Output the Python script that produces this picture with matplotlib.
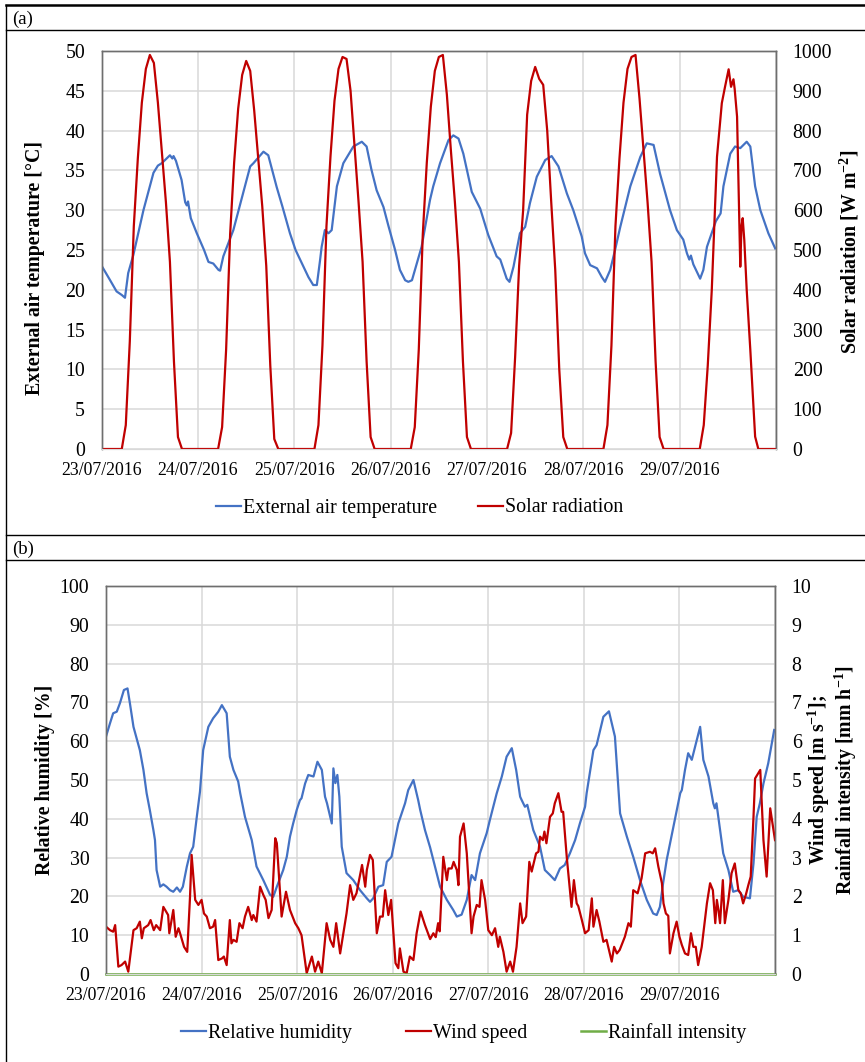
import matplotlib.pyplot as plt
from matplotlib.lines import Line2D

plt.rcParams['font.family'] = ['Liberation Serif', 'DejaVu Serif']
plt.rcParams['font.size'] = 14.3
plt.rcParams['mathtext.fontset'] = 'custom'
plt.rcParams['mathtext.rm'] = 'Liberation Serif'
plt.rcParams['mathtext.bf'] = 'Liberation Serif:bold'

# x axis: hours since 23/07/2016 00:00
day_labels = ['23/07/2016', '24/07/2016', '25/07/2016', '26/07/2016',
              '27/07/2016', '28/07/2016', '29/07/2016']

# external air temperature [°C]
temp_h = [0, 2.1, 3.7, 5.0, 5.8, 6.6, 7.9, 10.4, 12.9, 14.0, 14.95, 17.0, 17.6, 17.9, 18.5, 19.9,
          20.8, 21.2, 21.5, 22.2, 23.7, 25.5, 26.6, 27.8, 29.1, 29.5, 30.3, 31.2, 32.8, 36.1, 37.0,
          37.8, 39.0, 40.3, 41.5, 43.6, 45.0, 46.9, 48.3, 49.9, 51.5, 52.7, 53.6, 54.4, 54.8, 55.6,
          56.5, 57.3, 58.6, 60.2, 62.7, 64.8, 66.0, 67.2, 68.5, 70.2, 71.4, 73.1, 74.3, 75.6, 76.4,
          77.3, 78.5, 79.7, 81.8, 82.6, 84.3, 86.4, 87.6, 88.9, 90.1, 92.2, 94.3, 96.3, 98.4, 99.3,
          100.9, 101.6, 102.6, 103.4, 104.2, 105.5, 106.7, 108.4, 110.5, 112.1, 113.8, 115.9, 117.5,
          119.6, 120.4, 121.7, 123.4, 124.6, 125.4, 126.7, 127.9, 129.2, 131.7, 134.2, 135.8, 137.5,
          139.1, 141.6, 143.3, 144.9, 145.8, 146.4, 146.8, 147.4, 149.1, 149.9, 150.8, 153.0, 154.2,
          154.9, 156.6, 157.8, 159.1, 160.7, 161.6, 162.8, 164.1, 166.1, 167.8]
temp_c = [23.0, 21.2, 19.8, 19.35, 19.0, 22.1, 24.4, 30.0, 34.7, 35.6, 35.9, 36.9, 36.5, 36.8, 36.2, 33.8,
          31.0, 30.6, 31.1, 29.0, 27.1, 25.0, 23.5, 23.3, 22.5, 22.4, 24.2, 25.4, 27.5, 33.8, 35.5,
          35.9, 36.6, 37.35, 36.9, 32.9, 30.5, 27.1, 25.0, 23.3, 21.6, 20.6, 20.6, 23.7, 25.4, 27.5,
          27.1, 27.5, 33.0, 35.9, 38.0, 38.6, 38.0, 35.1, 32.5, 30.4, 28.1, 25.0, 22.5, 21.2, 21.0,
          21.2, 23.3, 25.4, 31.3, 33.0, 35.9, 38.8, 39.4, 39.0, 37.1, 32.3, 30.2, 26.9, 24.2, 23.8,
          21.4, 21.0, 22.9, 25.0, 27.1, 27.9, 30.9, 34.2, 36.3, 36.8, 35.5, 32.1, 30.0,
          26.7, 24.6, 23.1, 22.7, 21.6, 21.0, 22.5, 25.0, 27.9, 33.0, 36.7, 38.4, 38.2,
          34.6, 30.0, 27.5, 26.3, 24.6, 23.8, 24.3, 23.2, 21.4, 22.5, 25.4, 28.6, 29.6,
          33.0, 37.1, 38.0, 37.8, 38.6, 38.0, 33.0, 30.0, 27.1, 25.2]

# solar radiation [W m-2]
solar_h = [0, 5, 6, 7, 8, 9, 10, 11, 12, 13, 14, 15, 16, 17, 18, 19, 20,
           29, 30, 31, 32, 33, 34, 35, 36, 37, 38, 39, 40, 41, 42, 43, 44,
           53, 54, 55, 56, 57, 58, 59, 60, 61, 62, 63, 64, 65, 66, 67, 68,
           77, 78, 79, 80, 81, 82, 83, 84, 85, 86, 87, 88, 89, 90, 91, 92,
           101, 102, 103, 104, 105, 106, 107, 108, 109, 110, 111, 112, 113, 114, 115, 116,
           125, 126, 127, 128, 129, 130, 131, 132, 133, 134, 135, 136, 137, 138, 139, 140,
           149, 150, 151, 152, 153.3, 154.5, 155.3, 156.2, 156.8, 157.4, 157.7, 158.3, 159.1,
           159.4, 159.7, 160.1, 160.7, 161.6, 162.8, 163.6, 168]
solar_w = [0, 0, 60, 270, 560, 730, 870, 955, 990, 970, 870, 745, 620, 470, 220, 30, 0,
           0, 55, 250, 540, 720, 855, 940, 975, 950, 850, 730, 610, 460, 210, 25, 0,
           0, 60, 260, 560, 735, 875, 955, 985, 980, 900, 760, 620, 470, 220, 30, 0,
           0, 55, 250, 540, 720, 860, 950, 985, 990, 890, 750, 620, 470, 220, 30, 0,
           0, 40, 230, 460, 600, 840, 925, 960, 930, 915, 800, 620, 450, 200, 30, 0,
           0, 60, 260, 560, 730, 870, 955, 985, 990, 880, 750, 620, 470, 220, 30, 0,
           0, 60, 210, 400, 734, 869, 910, 954, 910, 929, 905, 835, 458,
           560, 580, 525, 400, 249, 31, 0, 0]

# relative humidity [%]
rh_h = [0, 1, 1.8, 2.7, 3.5, 4.5, 5.4, 6.0, 6.9, 7.7, 8.5, 9.4, 10.2, 11.0, 11.9, 12.3, 12.7, 13.6,
        14.4, 15.2, 16.1, 16.9, 17.8, 18.6, 19.3, 20.3, 21.1, 21.9, 22.8, 23.6, 24.4, 25.7, 26.9,
        28.2, 29.1, 30.3, 31.1, 32.0, 33.2, 33.7, 34.9, 36.6, 37.8, 39.5, 41.2, 42.0, 42.9, 44.5,
        45.4, 46.2, 47.0, 47.9, 48.7, 49.1, 50.0, 50.8, 52.1, 53.1, 54.2, 55.0, 55.5, 56.7, 57.1,
        57.6, 58.1, 58.6, 59.2, 60.4, 62.1, 63.8, 65.5, 66.3, 67.1, 68.4, 69.6, 70.5, 71.7, 73.4,
        75.1, 75.9, 77.2, 78.4, 78.9, 80.1, 81.4, 82.6, 83.9, 85.6, 87.2, 88.1, 89.3, 90.6, 91.8,
        92.7, 93.9, 95.6, 96.4, 98.1, 99.4, 100.6, 101.9, 103.0, 104.0, 104.4, 105.2, 105.8, 107.3,
        109.0, 110.2, 111.5, 112.7, 114.0, 115.2, 116.5, 117.8, 119.0, 120.3, 120.7, 122.4, 123.2,
        124.9, 126.3, 127.8, 128.6, 129.1, 130.8, 132.4, 134.1, 135.8, 137.4, 138.3, 139.1, 139.9,
        140.8, 142.5, 144.2, 144.6, 145.4, 146.2, 147.1, 149.2, 150.0, 151.3, 152.5, 152.9, 153.3,
        155.0, 156.3, 157.5, 158.8, 160.0, 161.7, 162.6, 163.4, 164.2, 165.1, 166.3, 167.8]
rh_pct = [61.2, 64.6, 67.2, 67.6, 69.8, 73.2, 73.6, 69.8, 63.7, 60.7, 57.7, 52.6, 46.6, 42.3, 37.1, 34.5, 26.8, 22.5,
          23.1, 22.5, 21.6, 21.2, 22.3, 21.2, 22.5, 27.7, 31.1, 32.8, 40.5, 47.0, 57.7, 63.7, 65.9,
          67.6, 69.3, 67.2, 56.0, 52.6, 49.6, 46.6, 40.5, 34.5, 27.7, 24.2, 20.4, 19.9, 22.5, 26.8,
          30.2, 35.4, 38.8, 42.3, 44.8, 45.3, 49.1, 51.3, 50.9, 54.7, 52.6, 45.7, 44.0, 38.8, 53.0,
          49.2, 51.3, 45.7, 32.8, 26.0, 24.2, 21.6, 19.5, 18.6, 19.5, 22.5, 22.9, 28.9, 30.2, 38.8,
          44.0, 47.4, 50.0, 44.8, 42.3, 37.1, 32.6, 27.7, 22.5, 19.1, 16.5, 14.8, 15.3, 19.1, 25.5,
          24.2, 31.1, 36.3, 39.7, 46.5, 50.9, 56.0, 58.2, 52.6, 45.7, 44.8, 43.1, 43.6, 37.1,
          32.8, 26.8, 25.5, 24.2, 27.2, 28.1, 31.1, 34.5, 38.8, 43.1, 46.6, 57.7, 59.0,
          66.3, 67.7, 61.2, 49.1, 41.4, 35.4, 30.2, 24.2, 19.1, 15.6, 15.2, 17.3, 23.4,
          29.4, 38.0, 46.6, 47.4, 52.6, 56.9, 55.2, 63.7, 55.2, 50.9, 44.0, 42.7, 44.0,
          31.1, 26.8, 21.2, 21.6, 19.9, 19.5, 28.5, 40.5, 44.0, 49.1, 54.3, 62.9]

# wind speed [m s-1]
wind_h = [0, 1, 1.8, 2.3, 3.1, 3.9, 4.8, 5.6, 6.9, 7.7, 8.5, 9.0, 9.5, 10.6, 11.2, 12.0, 12.6, 13.6,
          14.4, 15.6, 15.9, 16.9, 17.5, 18.2, 18.6, 19.6, 20.4, 21.1, 21.5, 22.4, 23.2, 24.0, 24.6,
          25.3, 26.1, 26.9, 27.4, 28.2, 29.1, 29.6, 30.3, 31.1, 31.5, 32.0, 32.8, 33.5, 34.3, 34.9,
          35.7, 36.6, 37.0, 37.8, 38.7, 39.5, 40.1, 40.8, 41.6, 42.5, 42.9, 44.1, 45.2, 46.2, 47.5,
          48.3, 49.1, 50.4, 51.7, 52.5, 53.3, 54.2, 55.4, 56.3, 57.1, 57.8, 58.8, 60.4, 61.3, 62.1,
          62.9, 63.4, 64.3, 65.1, 65.5, 66.3, 67.0, 68.0, 68.8, 69.5, 70.1, 70.9, 71.6, 72.7, 73.4,
          73.8, 74.7, 75.5, 76.3, 77.2, 78.0, 79.0, 80.1, 81.4, 82.2, 82.8, 83.4, 83.8, 84.7, 85.6,
          86.0, 86.8, 87.3, 88.1, 88.5, 88.9, 89.8, 90.6, 91.8, 92.3, 93.1, 93.8, 94.3, 95.2, 96.0,
          96.9, 97.7, 98.5, 98.9, 99.8, 100.6, 101.5, 102.2, 103.1, 104.0, 104.6, 105.5, 106.3,
          106.9, 108.0, 108.6, 109.0, 109.7, 110.1, 110.6, 111.5, 112.2, 112.7, 113.6, 114.4,
          114.8, 115.7, 116.9, 117.5, 118.2, 118.6, 119.5, 120.3, 121.2, 122.0, 122.4, 123.2,
          123.9, 124.9, 125.7, 127.0, 127.6, 128.3, 129.0, 130.3, 131.2, 131.8, 132.4, 133.5,
          134.5, 135.4, 136.6, 137.3, 137.9, 138.7, 139.6, 140.0, 140.6, 141.2, 141.6, 142.5,
          143.3, 144.0, 144.6, 145.4, 146.2, 146.9, 147.5, 148.1, 148.7, 149.6, 150.9, 151.7,
          152.4, 153.0, 153.4, 153.8, 154.2, 154.9, 155.4, 156.3, 157.1, 157.9, 158.8, 159.4,
          160.0, 160.7, 161.3, 161.9, 162.6, 163.0, 164.3, 165.1, 165.9, 166.8, 168.0]
wind_ms = [1.22, 1.13, 1.09, 1.26, 0.19, 0.23, 0.32, 0.06, 1.13, 1.18, 1.35, 0.92, 1.18, 1.26, 1.39, 1.13, 1.26, 1.13,
           1.73, 1.52, 1.05, 1.65, 0.96, 1.18, 1.05, 0.70, 0.57, 1.99, 3.07, 1.91, 1.78, 1.91, 1.56,
           1.48, 1.18, 1.22, 1.39, 0.36, 0.40, 0.45, 0.23, 1.39, 0.79, 0.88, 0.83, 1.31, 1.18, 1.48,
           1.73, 1.39, 1.52, 1.35, 2.25, 2.04, 1.91, 1.44, 1.65, 3.50, 3.37, 1.48, 2.12, 1.65, 1.31,
           1.18, 1.00, 0.02, 0.45, 0.06, 0.32, 0.02, 1.31, 0.88, 0.70, 1.31, 0.53, 1.56, 2.29, 1.91,
           2.08, 2.34, 2.81, 2.25, 2.68, 3.07, 2.94, 1.05, 1.48, 1.48, 2.16, 1.52, 1.91, 0.28, 0.15,
           0.66, 0.06, 0.02, 0.45, 0.36, 1.05, 1.61, 1.26, 0.90, 1.05, 0.95, 1.31, 1.10, 3.02, 2.42,
           2.72, 2.72, 2.89, 2.68, 2.29, 3.54, 3.88, 3.11, 1.05, 1.48, 1.78, 1.73, 2.42, 1.91, 1.13,
           1.00, 1.18, 0.70, 0.96, 0.57, 0.06, 0.32, 0.06, 0.70, 1.82, 1.31, 1.48, 2.89,
           2.64, 3.11, 3.15, 3.54, 3.45, 3.67, 3.37, 4.05, 4.14, 4.40, 4.66, 4.18,
           4.18, 3.02, 1.73, 2.42, 1.82, 1.75, 1.39, 1.05, 1.13, 1.95, 1.22, 1.65,
           1.35, 0.83, 0.88, 0.32, 0.70, 0.53, 0.62, 0.96, 1.31, 1.22, 2.16, 2.08,
           2.47, 3.11, 3.15, 3.11, 3.24, 2.77, 2.34, 1.82, 1.56, 1.50, 0.53, 1.05,
           1.35, 0.96, 0.75, 0.53, 0.49, 1.05, 0.70, 0.70, 0.23, 0.70, 1.82, 2.34,
           2.16, 1.31, 1.91, 1.65, 1.31, 2.42, 1.31, 1.91, 2.60, 2.85, 2.16, 2.08,
           1.82, 2.05, 2.29, 2.51, 4.05, 5.04, 5.26, 3.45, 2.51, 4.27, 3.45]

# rainfall intensity [mm h-1]: zero over the whole week
rain_h = [0, 24, 48, 72, 96, 120, 144, 168]
rain_mm = [0, 0, 0, 0, 0, 0, 0, 0]

blue = '#4472C4'
red = '#C00000'
green = '#70AD47'
grid_c = '#D9D9D9'
spine_c = '#6E6E6E'

W, H = 865, 1062
fig = plt.figure(figsize=(W / 100, H / 100), dpi=100)


def px_box(l, t, r, b):
    return [l / W, 1 - b / H, (r - l) / W, (b - t) / H]


def style(ax, ax2, ymax, ystep, y2max, y2step):
    ax.set_xlim(0, 168)
    ax.set_xticks([24 * i for i in range(len(day_labels))] + [168])
    ax.set_xticklabels(day_labels + [''])
    ax.set_ylim(0, ymax)
    ax.set_yticks([ystep * i for i in range(int(round(ymax / ystep)) + 1)])
    ax2.set_ylim(0, y2max)
    ax2.set_yticks([y2step * i for i in range(int(round(y2max / y2step)) + 1)])
    ax.grid(True, color=grid_c, lw=1.1)
    ax.set_axisbelow(True)
    ax.tick_params(length=0, labelsize=14.3)
    ax.tick_params(axis='y', pad=12)
    ax.tick_params(axis='x', pad=9, labelsize=12.8)
    ax2.tick_params(length=0, labelsize=14.3, pad=12)
    for a in (ax, ax2):
        for side in ('left', 'right', 'top'):
            a.spines[side].set_color(spine_c)
            a.spines[side].set_linewidth(1.0)
        a.spines['bottom'].set_color(grid_c)


leg_kw = dict(loc='center', frameon=False, fontsize=14.4,
              handlelength=1.25, handletextpad=0.1)

# ---- panel (a)
ax_a = fig.add_axes(px_box(101.7, 51, 776, 449))
ax_a2 = ax_a.twinx()
l1, = ax_a.plot(temp_h, temp_c, color=blue, lw=1.6, label='External air temperature')
l2, = ax_a2.plot(solar_h, solar_w, color=red, lw=1.6, label='Solar radiation')
style(ax_a, ax_a2, 50, 5, 1000, 100)
fig.text(35.5 / W, 1 - 268 / H, 'External air temperature [°C]', rotation=90,
         ha='center', va='center', fontweight='bold')
fig.text(849 / W, 1 - 252 / H, r'Solar radiation [W m$^{\mathbf{-2}}$]', rotation=90,
         ha='center', va='center', fontweight='bold')
fig.legend(handles=[l1, l2], bbox_to_anchor=(420 / W, 1 - 508 / H), ncol=2,
           columnspacing=2.05, **leg_kw)

# ---- panel (b)
ax_b = fig.add_axes(px_box(106, 586, 775, 974))
ax_b2 = ax_b.twinx()
l3, = ax_b.plot(rh_h, rh_pct, color=blue, lw=1.6, label='Relative humidity')
l4, = ax_b2.plot(wind_h, wind_ms, color=red, lw=1.6, label='Wind speed')
l5, = ax_b2.plot(rain_h, rain_mm, color=green, lw=1.8, label='Rainfall intensity', clip_on=False)
style(ax_b, ax_b2, 100, 10, 10, 1)
fig.text(45 / W, 1 - 780 / H, 'Relative humidity [%]', rotation=90,
         ha='center', va='center', fontweight='bold')
fig.text(832 / W, 1 - 780 / H,
         'Wind speed [m s$^{\\mathbf{-1}}$];\nRainfall intensity [mm h$^{\\mathbf{-1}}$]',
         rotation=90, ha='center', va='center', fontweight='bold',
         multialignment='center', linespacing=1.05)
fig.legend(handles=[l3, l4, l5], bbox_to_anchor=(464 / W, 1 - 1033 / H), ncol=3,
           columnspacing=2.7, **leg_kw)


# ---- table-like frame around the two panels
def hline(y, lw):
    fig.add_artist(Line2D([6 / W, 1], [1 - y / H, 1 - y / H], color='black', lw=lw,
                          transform=fig.transFigure))


hline(5, 1.8)
hline(29.5, 1.0)
hline(534.5, 1.0)
hline(559.5, 1.0)
fig.add_artist(Line2D([6 / W, 6 / W], [1 - 5 / H, 0], color='black', lw=1.0,
                      transform=fig.transFigure))
fig.text(12.5 / W, 1 - 19 / H, '(a)', ha='left', va='center', fontsize=13.5)
fig.text(12.5 / W, 1 - 549 / H, '(b)', ha='left', va='center', fontsize=13.5)

fig.savefig('out.png', dpi=100)
